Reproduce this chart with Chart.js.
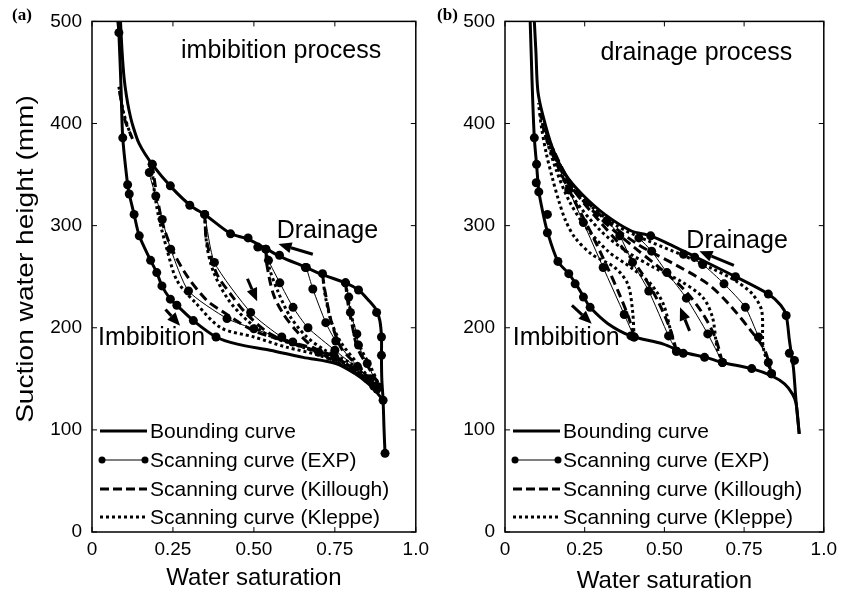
<!DOCTYPE html>
<html>
<head>
<meta charset="utf-8">
<script src="https://cdn.jsdelivr.net/npm/chart.js@4.4.1/dist/chart.umd.min.js"></script>
<style>
body { margin: 0; background: #fff; }
#wrap { position: relative; width: 843px; height: 596px; }
#left { position: absolute; left: 0; top: 0; }
#right { position: absolute; left: 435px; top: 0; }
</style>
</head>
<body>
<div id="wrap">
<canvas id="left" width="435" height="596"></canvas>
<canvas id="right" width="408" height="596"></canvas>
</div>
<script>
const xTickLabels = ["0", "0.25", "0.50", "0.75", "1.0"]

// ---- (a) imbibition process ----
const leftDrainBound = [[0.088,500],[0.093,470],[0.099,445],[0.106,428],[0.115,412],[0.125,399],[0.146,380],[0.186,360],[0.247,337],[0.307,319],[0.348,311],[0.429,292],[0.48,287],[0.54,277],[0.58,270],[0.662,259],[0.712,252],[0.783,244],[0.823,237],[0.854,227],[0.879,217],[0.889,207],[0.894,191],[0.894,171],[0.895,150],[0.899,129],[0.902,100],[0.905,77]]
const leftImbBound = [[0.08,500],[0.083,489],[0.09,432],[0.095,386],[0.11,340],[0.115,331],[0.13,311],[0.146,290],[0.181,266],[0.2,254],[0.216,241],[0.242,228],[0.262,222],[0.313,207],[0.383,191],[0.449,184],[0.55,178],[0.652,171],[0.753,165],[0.813,155],[0.854,145],[0.884,135],[0.899,129]]
const leftBoundDots = [[0.083,489],[0.095,386],[0.11,340],[0.115,331],[0.13,311],[0.146,290],[0.181,266],[0.2,254],[0.216,241],[0.242,228],[0.262,222],[0.313,207],[0.383,191],[0.186,360],[0.242,339],[0.302,320],[0.348,311],[0.428,292],[0.482,288],[0.512,279],[0.537,277],[0.579,271],[0.659,259],[0.712,253],[0.783,244],[0.823,237],[0.879,215],[0.894,191],[0.894,173],[0.899,129],[0.905,77]]
const leftExp1 = [[0.186,360],[0.177,352],[0.197,329],[0.217,306],[0.243,277],[0.298,236],[0.417,209],[0.5,199],[0.62,186],[0.75,171],[0.87,143]]
const leftExp2 = [[0.348,311],[0.378,264],[0.49,215],[0.586,191],[0.7,176],[0.85,150]]
const leftExp3 = [[0.537,277],[0.545,266],[0.58,244],[0.621,220],[0.667,200],[0.75,178],[0.86,150]]
const leftExp4 = [[0.662,259],[0.682,238],[0.722,205],[0.753,187],[0.82,162],[0.88,140]]
const leftExp5 = [[0.783,244],[0.793,230],[0.798,215],[0.818,194],[0.823,183],[0.85,165],[0.885,142]]
const leftKill0 = [[0.085,432],[0.1,405],[0.125,385]]
const leftKill1 = [[0.186,360],[0.2,330],[0.22,300],[0.25,275],[0.295,250],[0.354,227],[0.398,217],[0.5,197],[0.6,187],[0.702,178],[0.8,162],[0.87,142]]
const leftKill2 = [[0.348,311],[0.354,285],[0.385,253],[0.435,230],[0.476,214],[0.55,194],[0.652,181],[0.753,171],[0.85,150]]
const leftKill3 = [[0.537,277],[0.54,262],[0.56,233],[0.59,214],[0.631,197],[0.682,181],[0.743,168],[0.85,150]]
const leftKill4 = [[0.712,252],[0.72,235],[0.74,205],[0.77,180],[0.82,163],[0.87,145]]
const leftKill5 = [[0.783,244],[0.79,225],[0.805,200],[0.82,180],[0.86,158],[0.885,145]]
const leftKle0 = [[0.083,436],[0.098,410],[0.12,388]]
const leftKle1 = [[0.186,360],[0.19,340],[0.205,310],[0.233,275],[0.263,246],[0.324,223],[0.398,200],[0.5,191],[0.6,181],[0.702,173],[0.8,160],[0.87,142]]
const leftKle2 = [[0.348,311],[0.355,280],[0.375,255],[0.42,228],[0.48,207],[0.55,192],[0.65,181],[0.75,170],[0.85,150]]
const leftKle3 = [[0.537,277],[0.548,258],[0.575,235],[0.61,212],[0.66,192],[0.72,178],[0.8,165],[0.87,145]]
const leftKle4 = [[0.712,252],[0.72,232],[0.74,205],[0.77,185],[0.82,165],[0.87,145]]
const leftKle5 = [[0.783,244],[0.795,222],[0.81,200],[0.83,180],[0.86,162],[0.885,145]]

// ---- (b) drainage process ----
const rightDrainBound = [[0.092,500],[0.097,470],[0.103,432],[0.118,409],[0.149,376],[0.19,350],[0.241,331],[0.313,311],[0.395,295],[0.457,290],[0.528,280],[0.6,269],[0.723,250],[0.826,233],[0.865,222],[0.882,212],[0.892,188],[0.898,175],[0.905,160],[0.913,128],[0.923,96]]
const rightImbBound = [[0.079,500],[0.083,460],[0.087,422],[0.092,386],[0.099,360],[0.106,334],[0.118,314],[0.133,294],[0.166,265],[0.2,253],[0.226,241],[0.251,228],[0.267,220],[0.323,204],[0.395,192],[0.497,184],[0.559,176],[0.631,171],[0.682,166],[0.774,160],[0.836,153],[0.877,145],[0.902,135],[0.913,126],[0.923,96]]
const rightBoundDots = [[0.092,386],[0.099,360],[0.098,342],[0.106,333],[0.133,311],[0.133,293],[0.166,265],[0.2,253],[0.22,243],[0.246,230],[0.267,220],[0.395,192],[0.405,191],[0.538,177],[0.559,175],[0.626,171],[0.682,166],[0.774,160],[0.836,155],[0.457,290],[0.595,269],[0.723,250],[0.826,233],[0.882,212],[0.892,175],[0.908,168]]
const rightExp1 = [[0.405,191],[0.374,213],[0.308,259],[0.246,303],[0.2,335]]
const rightExp2 = [[0.538,177],[0.513,192],[0.451,236],[0.4,264],[0.36,290],[0.32,305]]
const rightExp3 = [[0.682,166],[0.636,194],[0.569,229],[0.508,254],[0.46,275],[0.42,288]]
const rightExp4 = [[0.836,155],[0.826,166],[0.795,191],[0.754,220],[0.687,243],[0.62,262],[0.56,272]]
const rightKill1 = [[0.405,191],[0.39,208],[0.36,232],[0.32,260],[0.27,293],[0.22,323],[0.17,355],[0.13,385],[0.11,410]]
const rightKill2 = [[0.538,177],[0.52,197],[0.48,226],[0.43,253],[0.37,278],[0.3,303],[0.22,333],[0.16,366],[0.12,400]]
const rightKill3 = [[0.682,166],[0.66,190],[0.62,214],[0.56,238],[0.48,260],[0.4,280],[0.3,307],[0.2,341],[0.14,378]]
const rightKill4 = [[0.836,155],[0.815,178],[0.774,196],[0.703,223],[0.636,243],[0.533,262],[0.415,282],[0.3,310],[0.2,345],[0.15,375]]
const rightKle1 = [[0.405,191],[0.4,217],[0.385,243],[0.344,259],[0.272,272],[0.22,288],[0.19,305],[0.169,324],[0.15,345],[0.13,370],[0.115,395],[0.105,420]]
const rightKle2 = [[0.538,177],[0.522,194],[0.497,223],[0.457,243],[0.395,259],[0.323,275],[0.25,300],[0.2,325],[0.16,355],[0.13,385],[0.112,410]]
const rightKle3 = [[0.682,166],[0.665,181],[0.651,210],[0.62,230],[0.549,246],[0.467,259],[0.38,275],[0.3,295],[0.22,325],[0.16,360],[0.12,395]]
const rightKle4 = [[0.836,155],[0.81,181],[0.805,217],[0.776,233],[0.723,246],[0.65,258],[0.55,272],[0.45,285],[0.35,300],[0.25,325],[0.18,355],[0.13,390]]

// annotations, in data units
const leftTexts = [{ t: "imbibition process", x: 0.584, y: 471 }, { t: "Drainage", x: 0.727, y: 295 }, { t: "Imbibition", x: 0.184, y: 190 }]
const leftArrows = [[0.682, 272, 0.576, 282], [0.227, 218, 0.272, 202], [0.48, 248, 0.51, 226]]
const rightTexts = [{ t: "drainage process", x: 0.6, y: 469 }, { t: "Drainage", x: 0.728, y: 285 }, { t: "Imbibition", x: 0.192, y: 190 }]
const rightArrows = [[0.718, 261, 0.61, 275], [0.21, 222, 0.272, 204], [0.579, 197, 0.549, 220]]
const legendNames = ["Bounding curve", "Scanning curve (EXP)", "Scanning curve (Killough)", "Scanning curve (Kleppe)"]

const FONT = "'Liberation Sans', Arial, sans-serif"

function pts(arr) {
    return arr.map((p) => ({ x: p[0], y: p[1] }))
}

function bound(arr) {
    return { data: pts(arr), showLine: true, borderColor: "#000", borderWidth: 3, pointRadius: 0, tension: 0.3 }
}
function exp(arr) {
    return { data: pts(arr), showLine: true, borderColor: "#000", borderWidth: 1, pointRadius: 4.5, pointBackgroundColor: "#000", pointBorderWidth: 0, tension: 0.2 }
}
function dots(arr) {
    return { data: pts(arr), showLine: false, pointRadius: 4.5, pointBackgroundColor: "#000", pointBorderWidth: 0 }
}
function kill(arr) {
    return { data: pts(arr), showLine: true, borderColor: "#000", borderWidth: 3, borderDash: [9, 5], pointRadius: 0, tension: 0.3 }
}
function kle(arr) {
    return { data: pts(arr), showLine: true, borderColor: "#000", borderWidth: 3, borderDash: [3, 3], pointRadius: 0, tension: 0.3 }
}

function drawArrow(ctx, x1, y1, x2, y2) {
    const ang = Math.atan2(y2 - y1, x2 - x1)
    const len = 13, half = 5.5
    const bx = x2 - len * Math.cos(ang), by = y2 - len * Math.sin(ang)
    ctx.lineWidth = 3
    ctx.beginPath()
    ctx.moveTo(x1, y1)
    ctx.lineTo(bx, by)
    ctx.stroke()
    ctx.beginPath()
    ctx.moveTo(x2, y2)
    ctx.lineTo(bx + half * Math.sin(ang), by - half * Math.cos(ang))
    ctx.lineTo(bx - half * Math.sin(ang), by + half * Math.cos(ang))
    ctx.closePath()
    ctx.fill()
}

const decor = {
    id: "decor",
    afterDraw(chart, args, o) {
        const ctx = chart.ctx
        const a = chart.chartArea
        const xs = chart.scales.x
        const ys = chart.scales.y
        ctx.save()
        ctx.strokeStyle = "#000"
        ctx.fillStyle = "#000"
        ctx.lineWidth = 1.5
        ctx.strokeRect(a.left, a.top, a.right - a.left, a.bottom - a.top)
        ctx.lineWidth = 1
        xs.ticks.forEach((t) => {
            const px = xs.getPixelForValue(t.value)
            ctx.beginPath()
            ctx.moveTo(px, a.bottom); ctx.lineTo(px, a.bottom - 5)
            ctx.moveTo(px, a.top); ctx.lineTo(px, a.top + 5)
            ctx.stroke()
        })
        ys.ticks.forEach((t) => {
            const py = ys.getPixelForValue(t.value)
            ctx.beginPath()
            ctx.moveTo(a.left, py); ctx.lineTo(a.left + 5, py)
            ctx.moveTo(a.right, py); ctx.lineTo(a.right - 5, py)
            ctx.stroke()
        })

        // texts in plot
        ctx.font = "25px " + FONT
        ctx.textAlign = "center"
        ctx.textBaseline = "middle"
        o.texts.forEach((l) => ctx.fillText(l.t, xs.getPixelForValue(l.x), ys.getPixelForValue(l.y)))

        // arrows
        o.arrows.forEach((r) => drawArrow(ctx, xs.getPixelForValue(r[0]), ys.getPixelForValue(r[1]), xs.getPixelForValue(r[2]), ys.getPixelForValue(r[3])))

        // legend
        const rows = [-101, -72, -43, -15]
        const lx0 = a.left + 8, lx1 = a.left + 55
        ctx.font = "21px " + FONT
        ctx.textAlign = "left"
        rows.forEach((dy, i) => {
            const y = a.bottom + dy
            ctx.setLineDash(i == 2 ? [9, 4] : i == 3 ? [3, 3] : [])
            ctx.lineWidth = i == 1 ? 1 : 3
            ctx.beginPath()
            ctx.moveTo(lx0, y)
            ctx.lineTo(lx1, y)
            ctx.stroke()
            ctx.setLineDash([])
            if (i == 1) {
                ctx.beginPath(); ctx.arc(lx0 + 2, y, 3.5, 0, Math.PI * 2); ctx.fill()
                ctx.beginPath(); ctx.arc(lx1 - 2, y, 3.5, 0, Math.PI * 2); ctx.fill()
            }
            ctx.fillText(legendNames[i], a.left + 58, y + 1)
        })

        // axis titles
        ctx.font = "24px " + FONT
        ctx.textAlign = "center"
        ctx.fillText("Water saturation", (a.left + a.right) / 2, o.xTitleY)
        if (o.yTitle) {
            ctx.save()
            ctx.translate(26, 259)
            ctx.rotate(-Math.PI / 2)
            ctx.scale(1.17, 1)
            ctx.fillText("Suction water height (mm)", 0, 0)
            ctx.restore()
        }

        // panel tag
        ctx.font = "bold 17px 'Liberation Serif', serif"
        ctx.textAlign = "center"
        ctx.fillText(o.tag, o.tagX, 16)
        ctx.restore()
    },
}

function makePanel(id, datasets, opts, plotLeft, padRight) {
    return new Chart(document.getElementById(id), {
        type: "scatter",
        data: { datasets: datasets },
        options: {
            responsive: false,
            animation: false,
            events: [],
            layout: { padding: { top: 20, right: padRight, left: 0, bottom: 0 } },
            plugins: { legend: { display: false }, tooltip: { enabled: false }, decor: opts },
            scales: {
                x: {
                    type: "linear",
                    min: 0,
                    max: 1,
                    grid: { display: false, drawTicks: false },
                    border: { display: false },
                    ticks: {
                        stepSize: 0.25,
                        autoSkip: false,
                        maxRotation: 0,
                        padding: 6,
                        color: "#000",
                        font: { family: FONT, size: 19 },
                        callback: (v, i) => xTickLabels[i],
                    },
                    afterFit: (s) => { s.height = 64 },
                },
                y: {
                    type: "linear",
                    min: 0,
                    max: 500,
                    grid: { display: false, drawTicks: false },
                    border: { display: false },
                    ticks: { stepSize: 100, padding: 10, color: "#000", font: { family: FONT, size: 19 } },
                    afterFit: (s) => { s.width = plotLeft },
                },
            },
        },
        plugins: [decor],
    })
}

const leftSets = [
    bound(leftDrainBound), bound(leftImbBound), dots(leftBoundDots),
    exp(leftExp1), exp(leftExp2), exp(leftExp3), exp(leftExp4), exp(leftExp5),
    kill(leftKill0), kill(leftKill1), kill(leftKill2), kill(leftKill3), kill(leftKill4), kill(leftKill5),
    kle(leftKle0), kle(leftKle1), kle(leftKle2), kle(leftKle3), kle(leftKle4), kle(leftKle5),
]
const rightSets = [
    bound(rightDrainBound), bound(rightImbBound), dots(rightBoundDots),
    exp(rightExp1), exp(rightExp2), exp(rightExp3), exp(rightExp4),
    kill(rightKill1), kill(rightKill2), kill(rightKill3), kill(rightKill4),
    kle(rightKle1), kle(rightKle2), kle(rightKle3), kle(rightKle4),
]

makePanel("left", leftSets, { texts: leftTexts, arrows: leftArrows, xTitleY: 578, yTitle: true, tag: "(a)", tagX: 22 }, 92, 13.5)
makePanel("right", rightSets, { texts: rightTexts, arrows: rightArrows, xTitleY: 581, yTitle: false, tag: "(b)", tagX: 12.5 }, 70, 13)
</script>
</body>
</html>
